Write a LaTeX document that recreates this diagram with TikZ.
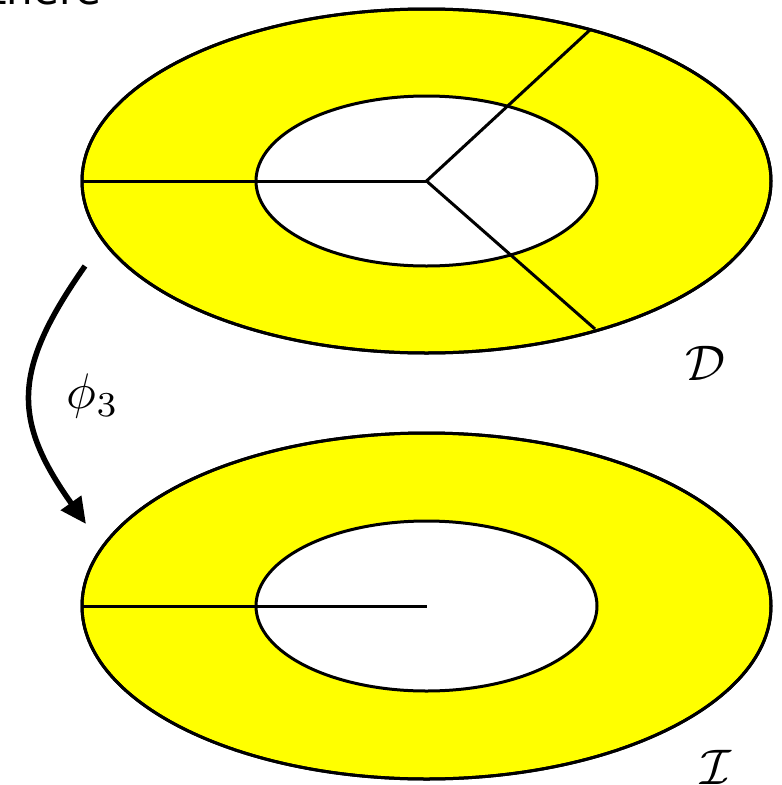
\documentclass[tikz,border=0pt]{standalone}
\usepackage{fontspec}
\newfontfamily\sansfam{DejaVu Sans}
\usetikzlibrary{arrows.meta}
\definecolor{ringyellow}{RGB}{255,255,0}
\tikzset{
  ring/.style={draw=black, line width=3pt, fill=ringyellow},
  hole/.style={draw=black, line width=3pt, fill=white},
  cut/.style={draw=black, line width=3pt},
  maparrow/.style={draw=black, line width=5.5pt, -{Triangle[length=26pt,width=24pt]}},
  biglabel/.style={inner sep=0pt},
}
\begin{document}
\begin{tikzpicture}[x=1pt,y=-1pt]
\useasboundingbox (0,0) rectangle (782,785);
\begin{scope}
\clip (0,0) rectangle (782,785);
\node[anchor=base west, inner sep=0pt, font=\sansfam\fontsize{42}{42}\selectfont] (there) at (-10,4) {there};
\end{scope}
% top annulus
\coordinate (c1) at (426.5,181);
\path[ring] (c1) ellipse [x radius=344.5, y radius=172];
\path[hole] (c1) ellipse [x radius=170.5, y radius=85];
\coordinate (l1) at (82,181);
\coordinate (u1) at (591,29);
\coordinate (d1) at (595,329);
\draw[cut] (c1) -- (l1);
\draw[cut] (c1) -- (u1);
\draw[cut] (c1) -- (d1);
\draw[line width=3pt] (c1) ellipse [x radius=344.5, y radius=172];
\node[biglabel] (D) at (705,363) {\scalebox{5}{$\mathcal{D}$}};
% bottom annulus
\coordinate (c2) at (426.5,606);
\path[ring] (c2) ellipse [x radius=344.5, y radius=173];
\path[hole] (c2) ellipse [x radius=170.5, y radius=85];
\coordinate (l2) at (82,606);
\draw[cut] (l2) -- (c2);
\draw[line width=3pt] (c2) ellipse [x radius=344.5, y radius=173];
\node[biglabel] (I) at (716,767) {\scalebox{5}{$\mathcal{I}$}};
% arrow
\coordinate (as) at (85,266);
\coordinate (ae) at (86,524);
\draw[maparrow] (as) .. controls (12,370) and (12,420) .. (ae);
\node[biglabel] (phi) at (93,396) {\scalebox{5}{$\phi_3$}};
\end{tikzpicture}
\end{document}
